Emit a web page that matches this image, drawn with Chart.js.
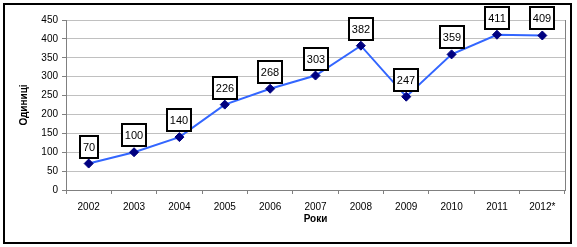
<!DOCTYPE html>
<html>
<head>
<meta charset="utf-8">
<script src="https://cdn.jsdelivr.net/npm/chart.js@4/dist/chart.umd.min.js"></script>
<style>
  html, body { margin: 0; padding: 0; background: #fff; }
  #wrap { position: relative; width: 577px; height: 247px; }
</style>
</head>
<body>
<div id="wrap"><canvas id="chart" width="577" height="247"></canvas></div>
<script>
// дані
const years = ["2002", "2003", "2004", "2005", "2006", "2007", "2008", "2009", "2010", "2011", "2012*"];
const units = [70, 100, 140, 226, 268, 303, 382, 247, 359, 411, 409];
const yMin = 0;
const yMax = 450;
const yStep = 50;

const FONT = "Arial, 'Liberation Sans', sans-serif";

// рамка навколо діаграми + права межа області побудови
const framePlugin = {
  id: "frame",
  beforeDraw(chart) {
    const ctx = chart.ctx;
    ctx.save();
    ctx.fillStyle = "#fff";
    ctx.fillRect(0, 0, chart.width, chart.height);
    ctx.restore();
  },
  afterDraw(chart) {
    const ctx = chart.ctx;
    const a = chart.chartArea;
    ctx.save();
    ctx.strokeStyle = "#808080";
    ctx.lineWidth = 1;
    ctx.beginPath();
    ctx.moveTo(Math.round(a.right) + 0.5, a.top);
    ctx.lineTo(Math.round(a.right) + 0.5, a.bottom);
    ctx.stroke();
    ctx.strokeStyle = "#000";
    ctx.lineWidth = 2;
    ctx.strokeRect(4, 4, chart.width - 10, chart.height - 8);
    ctx.restore();
  },
};

// підписи значень у рамках
const boxLabels = {
  id: "boxLabels",
  afterDatasetsDraw(chart) {
    const ctx = chart.ctx;
    const meta = chart.getDatasetMeta(0);
    ctx.save();
    ctx.font = "11px " + FONT;
    ctx.textAlign = "center";
    ctx.textBaseline = "middle";
    meta.data.forEach((pt, i) => {
      const txt = String(chart.data.datasets[0].data[i]);
      const w = Math.round(ctx.measureText(txt).width) + 6;
      const h = 22;
      const x = Math.round(pt.x - w / 2);
      const y = Math.round(pt.y - 6 - h);
      ctx.fillStyle = "#fff";
      ctx.fillRect(x, y, w, h);
      ctx.strokeStyle = "#000";
      ctx.lineWidth = 2;
      ctx.strokeRect(x, y, w, h);
      ctx.fillStyle = "#000";
      ctx.fillText(txt, x + w / 2, y + h / 2 + 1);
    });
    ctx.restore();
  },
};

new Chart(document.getElementById("chart"), {
  type: "line",
  data: {
    labels: years,
    datasets: [
      {
        data: units,
        borderColor: "#3366ff",
        borderWidth: 2,
        tension: 0,
        pointStyle: "rectRot",
        pointRadius: 4.5,
        pointBackgroundColor: "#000080",
        pointBorderColor: "#000080",
        pointBorderWidth: 1,
      },
    ],
  },
  options: {
    responsive: false,
    animation: false,
    layout: { padding: { top: 20, right: 12, bottom: 0, left: 0 } },
    plugins: {
      legend: { display: false },
      tooltip: { enabled: false },
    },
    scales: {
      x: {
        offset: true,
        afterFit: (s) => { s.height = 57; },
        grid: {
          offset: true,
          drawOnChartArea: false,
          drawTicks: true,
          tickLength: 4,
          tickColor: "#808080",
        },
        border: { color: "#808080", width: 1 },
        ticks: {
          color: "#000",
          padding: 7,
          maxRotation: 0,
          autoSkip: false,
          font: { family: FONT, size: 10 },
        },
        title: {
          display: true,
          text: "Роки",
          color: "#000",
          padding: { top: 0, bottom: 22 },
          font: { family: FONT, size: 10, weight: "bold" },
        },
      },
      y: {
        min: yMin,
        max: yMax,
        afterFit: (s) => { s.width = 66; },
        grid: {
          color: "#c0c0c0",
          tickLength: 4,
          tickColor: "#808080",
        },
        border: { color: "#808080", width: 1 },
        ticks: {
          stepSize: yStep,
          color: "#000",
          padding: 4,
          font: { family: FONT, size: 10 },
        },
        title: {
          display: true,
          text: "Одиниці",
          color: "#000",
          padding: { top: 18, bottom: 0 },
          font: { family: FONT, size: 10, weight: "bold" },
        },
      },
    },
  },
  plugins: [framePlugin, boxLabels],
});
</script>
</body>
</html>
